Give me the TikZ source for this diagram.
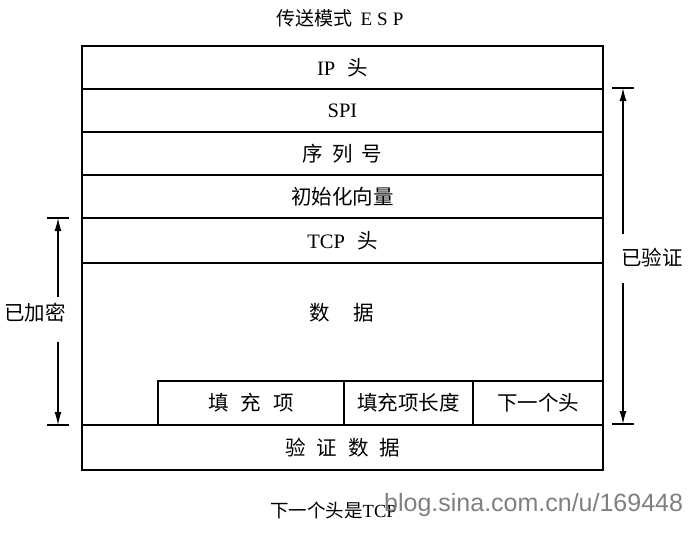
\documentclass[tikz,border=0pt]{standalone}
\usepackage{fontspec}
\setmainfont{Liberation Serif}
\newfontfamily\cjk{Noto Sans CJK SC}
\newfontfamily\wm{Liberation Sans}
\usetikzlibrary{arrows.meta}
\begin{document}
\begin{tikzpicture}[x=1pt,y=-1pt,
  row/.style={draw, line width=1.6pt, minimum width=521pt, inner sep=0pt, font=\fontsize{20.5}{22}\selectfont},
  cell/.style={draw, line width=1.6pt, minimum height=44pt, inner sep=0pt, font=\cjk\fontsize{20.5}{22}\selectfont},
  lbl/.style={inner sep=1pt, font=\cjk\fontsize{20.5}{22}\selectfont},
  dim/.style={line width=1.2pt, -{Latex[length=13pt,width=7pt]}},
  tick/.style={line width=1.2pt}]
\useasboundingbox[fill=white] (0,0) rectangle (695,535);
% title
\node[font=\fontsize{19}{20}\selectfont] (title) at (340,18) {{\cjk 传送模式}\hspace{8pt}E\hspace{5pt}S\hspace{5pt}P};
% rows
\node[row, minimum height=43pt] (ip)  at (342.5,67.5)  {IP\hspace{12pt}{\cjk 头}};
\node[row, minimum height=43pt] (spi) at (342.5,110.5) {SPI};
\node[row, minimum height=43pt] (seq) at (342.5,153.5) {\cjk 序\hspace{9pt}列\hspace{9pt}号};
\node[row, minimum height=43pt] (iv)  at (342.5,196.5) {\cjk 初始化向量};
\node[row, minimum height=45pt] (tcp) at (342.5,240.5) {TCP\hspace{12pt}{\cjk 头}};
\node[row, minimum height=162pt] (data) at (342.5,344) {};
\node[lbl] (datatext) at (342,313) {数\hspace{24pt}据};
\node[cell, minimum width=186pt] (pad) at (251,403) {填\hspace{12pt}充\hspace{12pt}项};
\node[cell, minimum width=129pt] (padlen) at (408.5,403) {填充项长度};
\node[cell, minimum width=130pt] (nh) at (538,403) {下一个头};
\node[row, minimum height=45pt] (auth) at (342.5,447.5) {\cjk 验\hspace{11pt}证\hspace{11pt}数\hspace{11pt}据};
% encrypted range
\coordinate (encT) at (58,218);
\coordinate (encB) at (58,425);
\node[lbl] (enc) at (35,313) {已加密};
\draw[tick] ([xshift=-11pt]encT) -- ([xshift=11pt]encT);
\draw[tick] ([xshift=-11pt]encB) -- ([xshift=11pt]encB);
\draw[dim] (58,297) -- (encT);
\draw[dim] (58,342) -- (encB);
% authenticated range
\coordinate (autT) at (623,88);
\coordinate (autB) at (623,424);
\node[lbl] (aut) at (652,258) {已验证};
\draw[tick] ([xshift=-11pt]autT) -- ([xshift=11pt]autT);
\draw[tick] ([xshift=-11pt]autB) -- ([xshift=11pt]autB);
\draw[dim] (623,234) -- (autT);
\draw[dim] (623,283) -- (autB);
% footer
\node[anchor=west, inner sep=0pt, font=\fontsize{18.5}{20}\selectfont] (foot) at (270,510) {{\cjk 下一个头是}TCP};
\node[anchor=west, inner sep=0pt, text=black!50, font=\wm\fontsize{25}{26}\selectfont] (mark) at (384,505) {blog.sina.com.cn/u/169448};
\end{tikzpicture}
\end{document}
